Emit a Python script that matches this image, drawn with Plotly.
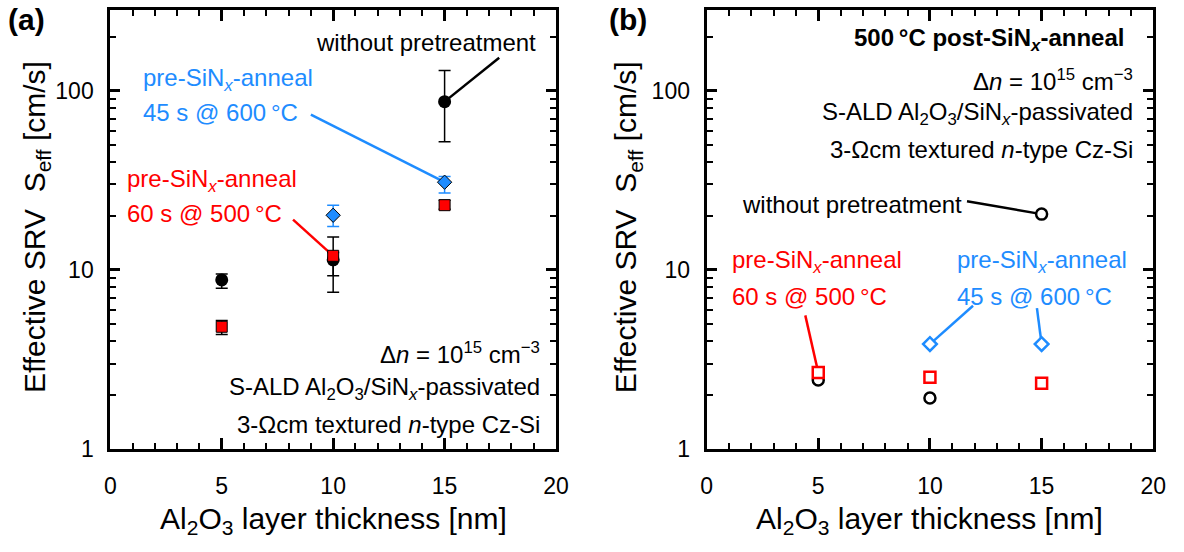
import numpy as np
import plotly.graph_objects as go

W, H = 1184, 552
FONT = "Liberation Sans, Arial, sans-serif"
BLUE = "#1e8cff"
RED = "#ff0000"

# ---------------- data ----------------
thickness = [5, 10, 15]
thickness_600 = [10, 15]

# panel (a): before post-SiNx anneal
a_nopre = [8.8, 11.4, 87]
a_nopre_up = [0.7, 3.9, 43]
a_nopre_dn = [0.9, 3.9, 35]
a_600 = [20.2, 30.9]
a_600_up = [2.8, 2.3]
a_600_dn = [2.7, 4.0]
a_500 = [4.82, 12.0, 23.0]
a_500_up = [0.4, 0.5, 1.5]
a_500_dn = [0.45, 2.7, 1.2]

# panel (b): after 500 °C post-SiNx anneal
b_nopre = [2.43, 1.93, 20.5]
b_500 = [2.68, 2.52, 2.33]
b_600 = [3.86, 3.86]

x_ticks = [0, 5, 10, 15, 20]
y_ticks = [1, 10, 100]
y_tick_labels = ["1", "10", "100"]
y_minor = [2, 3, 4, 5, 6, 7, 8, 9, 20, 30, 40, 50, 60, 70, 80, 90, 200]

# plot-area geometry in pixels
PLOT_TOP, PLOT_BOTTOM = 10, 460
A_LEFT, A_RIGHT = 106, 559
B_LEFT, B_RIGHT = 712, 1166
Y_TOP = 10 ** (2 + (93 - PLOT_TOP) / 183.5)

fig = go.Figure()


def leader(x0, y0, x1, y1, color, xa, ya):
    fig.add_trace(go.Scatter(x=[x0, x1], y=[y0, y1], mode="lines",
                             line=dict(color=color, width=2.5),
                             hoverinfo="skip", xaxis=xa, yaxis=ya))


# ---- panel (a) ----
leader(17.45, 153, 15, a_nopre[2], "black", "x", "y")
leader(9.0, 73.6, 15, a_600[1], BLUE, "x", "y")
leader(8.2, 19.1, 10, a_500[1], RED, "x", "y")

fig.add_trace(go.Scatter(
    x=thickness, y=a_nopre, mode="markers", xaxis="x", yaxis="y",
    marker=dict(symbol="circle", size=13, color="black"),
    error_y=dict(type="data", symmetric=False, array=a_nopre_up,
                 arrayminus=a_nopre_dn, color="black", thickness=1.5, width=6)))
fig.add_trace(go.Scatter(
    x=thickness_600, y=a_600, mode="markers", xaxis="x", yaxis="y",
    marker=dict(symbol="diamond", size=11, color=BLUE, line=dict(color="black", width=1)),
    error_y=dict(type="data", symmetric=False, array=a_600_up,
                 arrayminus=a_600_dn, color=BLUE, thickness=1.5, width=6)))
fig.add_trace(go.Scatter(
    x=thickness, y=a_500, mode="markers", xaxis="x", yaxis="y",
    marker=dict(symbol="square", size=11, color=RED, line=dict(color="black", width=1)),
    error_y=dict(type="data", symmetric=False, array=a_500_up,
                 arrayminus=a_500_dn, color="black", thickness=1.5, width=6)))

# ---- panel (b) ----
leader(11.66, 24.2, 15, b_nopre[2], "black", "x2", "y2")
leader(4.42, 5.58, 5, b_500[0], RED, "x2", "y2")
leader(11.93, 6.32, 10, b_600[0], BLUE, "x2", "y2")
leader(14.79, 6.12, 15, b_600[1], BLUE, "x2", "y2")

fig.add_trace(go.Scatter(
    x=thickness, y=b_nopre, mode="markers", xaxis="x2", yaxis="y2",
    marker=dict(symbol="circle", size=11, color="white", line=dict(color="black", width=2.5))))
fig.add_trace(go.Scatter(
    x=thickness, y=b_500, mode="markers", xaxis="x2", yaxis="y2",
    marker=dict(symbol="square", size=11, color="white", line=dict(color=RED, width=2.5))))
fig.add_trace(go.Scatter(
    x=thickness_600, y=b_600, mode="markers", xaxis="x2", yaxis="y2",
    marker=dict(symbol="diamond", size=10.5, color="white", line=dict(color=BLUE, width=2.5))))


def xax(left, right, anchor):
    return dict(domain=[left / W, right / W], anchor=anchor, range=[0, 20], tickmode="array",
                tickvals=x_ticks, ticks="inside", ticklen=11, tickwidth=2.5,
                tickcolor="black", showline=True, linewidth=3, linecolor="black",
                mirror="allticks", showgrid=False, zeroline=False,
                tickfont=dict(size=23, color="black", family=FONT),
                ticklabelstandoff=14,
                minor=dict(dtick=1, tick0=0, ticks="inside", ticklen=6, tickwidth=2,
                           tickcolor="black", showgrid=False))


def yax(anchor):
    return dict(domain=[1 - PLOT_BOTTOM / H, 1 - PLOT_TOP / H], anchor=anchor, type="log",
                range=[0, np.log10(Y_TOP)], tickmode="array", tickvals=y_ticks,
                ticktext=y_tick_labels, ticks="inside", ticklen=10, tickwidth=2.5,
                tickcolor="black", showline=True, linewidth=3, linecolor="black",
                mirror="allticks", showgrid=False, zeroline=False,
                tickfont=dict(size=23, color="black", family=FONT),
                ticklabelstandoff=9,
                minor=dict(tickmode="array", tickvals=y_minor, ticks="inside",
                           ticklen=6, tickwidth=2, tickcolor="black", showgrid=False))


def P(px, py):
    return px / W, 1 - py / H


annotations = []


def ann(text, px, py, xanchor="left", size=24, color="black", **kw):
    x, y = P(px, py)
    annotations.append(dict(text=text, x=x, y=y, xref="paper", yref="paper",
                            xanchor=xanchor, yanchor="middle", showarrow=False,
                            borderpad=0,
                            font=dict(size=size, color=color, family=FONT), **kw))


pre = "pre-SiN<sub><i>x</i></sub>-anneal"
dn = "Δ<i>n</i> = 10<sup>15</sup> cm<sup>−3</sup>"
sald = "S-ALD Al<sub>2</sub>O<sub>3</sub>/SiN<sub><i>x</i></sub>-passivated"
cz = "3-Ωcm textured <i>n</i>-type Cz-Si"
xtitle = "Al<sub>2</sub>O<sub>3</sub> layer thickness [nm]"
ytitle = "Effective SRV  S<sub>eff</sub> [cm/s]"

# panel (a) texts
ann("without pretreatment", 314, 44)
ann(pre, 138, 81, color=BLUE)
ann("45 s @ 600\u2009°C", 138, 115, color=BLUE)
ann(pre, 122, 185, color=RED)
ann("60 s @ 500\u2009°C", 122, 219, color=RED)
ann(dn, 544, 362, xanchor="right")
ann(sald, 544, 398, xanchor="right")
ann(cz, 544, 435, xanchor="right")
ann("<b>(a)</b>", 1, 20, size=30)
ann(xtitle, (A_LEFT + A_RIGHT) / 2, 533, xanchor="center", size=30)
ann(ytitle, 31, 233, xanchor="center", size=30, textangle=-90)

# panel (b) texts
ann("<b>500\u2009°C post-SiN<sub><i>x</i></sub>-anneal</b>", 1137, 40, xanchor="right")
ann(dn, 1146, 82, xanchor="right")
ann(sald, 1146, 116, xanchor="right")
ann(cz, 1146, 153, xanchor="right")
ann("without pretreatment", 973, 209, xanchor="right")
ann(pre, 737, 268, color=RED)
ann("60 s @ 500\u2009°C", 737, 304, color=RED)
ann(pre, 965, 268, color=BLUE)
ann("45 s @ 600\u2009°C", 965, 304, color=BLUE)
ann("<b>(b)</b>", 612, 20, size=30)
ann(xtitle, (B_LEFT + B_RIGHT) / 2, 533, xanchor="center", size=30)
ann(ytitle, 632, 233, xanchor="center", size=30, textangle=-90)

fig.update_layout(
    width=W, height=H, margin=dict(l=0, r=0, t=0, b=0),
    paper_bgcolor="white", plot_bgcolor="white", showlegend=False,
    hovermode=False, font=dict(family=FONT, color="black"),
    xaxis=xax(A_LEFT, A_RIGHT, "y"),
    yaxis=yax("x"),
    xaxis2=xax(B_LEFT, B_RIGHT, "y2"),
    yaxis2=yax("x2"),
    annotations=annotations,
)

fig.write_html("out.html")
